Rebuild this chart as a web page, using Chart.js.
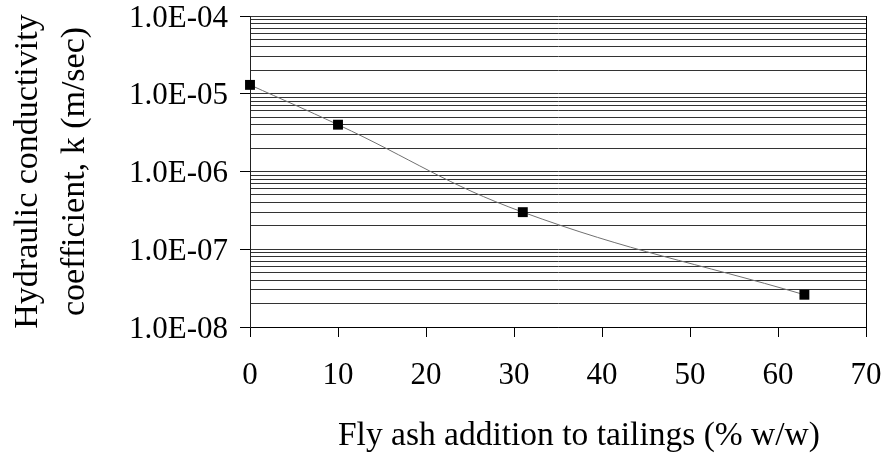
<!DOCTYPE html>
<html>
<head>
<meta charset="utf-8">
<title>Hydraulic conductivity vs fly ash addition</title>
<script src="https://cdn.jsdelivr.net/npm/chart.js@4/dist/chart.umd.min.js"></script>
<style>
  html, body { margin: 0; padding: 0; background: #fff; }
  #wrap { width: 885px; height: 456px; }
</style>
</head>
<body>
<div id="wrap"><canvas id="kChart"></canvas></div>
<script>
// fly ash content (% w/w) and measured k (m/sec)
const flyAsh = [0, 10, 31, 63];
const kValues = [1.3e-5, 4.0e-6, 3.0e-7, 2.6e-8];

// log axis: one decade per entry, labelled in Excel style
const decades = [-8, -7, -6, -5, -4];
const decadeLabels = ['1.0E-08', '1.0E-07', '1.0E-06', '1.0E-05', '1.0E-04'];
const xTicks = [0, 10, 20, 30, 40, 50, 60, 70];

const serif = '"Liberation Serif", "Times New Roman", serif';

function decadeIndex(v) {
    const e = Math.log10(v);
    const r = Math.round(e);
    if (Math.abs(e - r) > 1e-6) return -1;
    return decades.indexOf(r);
}

const ctx = document.getElementById('kChart').getContext('2d');

new Chart(ctx, {
    type: 'scatter',
    data: {
        datasets: [{
            data: flyAsh.map((x, i) => ({ x: x, y: kValues[i] })),
            showLine: true,
            tension: 0.4,
            borderColor: '#707070',
            borderWidth: 1,
            pointStyle: 'rect',
            pointRadius: 7,
            pointBackgroundColor: '#000',
            pointBorderColor: '#000',
            pointBorderWidth: 0,
            clip: false,
        }],
    },
    options: {
        responsive: true,
        maintainAspectRatio: false,
        animation: false,
        events: [],
        layout: { padding: { top: 16, right: 19, left: 0, bottom: 0 } },
        plugins: {
            legend: { display: false },
            tooltip: { enabled: false },
        },
        scales: {
            x: {
                type: 'linear',
                min: xTicks[0],
                max: xTicks[xTicks.length - 1],
                afterBuildTicks: (scale) => {
                    scale.ticks = xTicks.map(v => ({ value: v }));
                },
                afterFit: (scale) => {
                    scale.height = 129;
                    scale.paddingLeft = 0;
                    scale.paddingRight = 0;
                },
                ticks: {
                    autoSkip: false,
                    maxRotation: 0,
                    padding: 20,
                    color: '#000',
                    font: { family: serif, size: 31 },
                },
                // only the line at 70 shows inside the plot: it closes the frame on the right
                grid: {
                    drawOnChartArea: true,
                    color: (c) => (c.tick && c.tick.value === 70 ? '#000' : 'rgba(0,0,0,0)'),
                    tickColor: '#000',
                    tickLength: 10,
                    lineWidth: 1,
                },
                border: { display: true, color: '#000', width: 1 },
                title: {
                    display: true,
                    // leading spaces push the caption a little right of the plot centre
                    text: '     Fly ash addition to tailings (% w/w)',
                    color: '#000',
                    font: { family: serif, size: 33.5 },
                    padding: { top: 0, bottom: 0 },
                },
            },
            y: {
                type: 'logarithmic',
                min: Math.pow(10, decades[0]),
                max: Math.pow(10, decades[decades.length - 1]),
                afterBuildTicks: (scale) => {
                    // 1..9 in every decade, no extra 1.5 steps
                    const ticks = [];
                    decades.forEach((e, i) => {
                        const top = i === decades.length - 1 ? 1 : 9;
                        for (let m = 1; m <= top; m++) {
                            ticks.push({ value: m * Math.pow(10, e), major: m === 1 });
                        }
                    });
                    scale.ticks = ticks;
                },
                afterFit: (scale) => {
                    scale.width = 250;
                    scale.paddingTop = 0;
                    scale.paddingBottom = 0;
                },
                ticks: {
                    autoSkip: false,
                    padding: 12,
                    labelOffset: 2.5,
                    color: '#000',
                    font: { family: serif, size: 31 },
                    callback: (v) => {
                        const i = decadeIndex(v);
                        return i >= 0 ? decadeLabels[i] : '';
                    },
                },
                grid: {
                    color: '#333',
                    lineWidth: 1,
                    tickLength: 10,
                    tickColor: (c) => (c.tick && decadeIndex(c.tick.value) >= 0 ? '#000' : 'rgba(0,0,0,0)'),
                },
                border: { display: true, color: '#222', width: 1 },
                title: {
                    display: true,
                    text: ['Hydraulic conductivity', 'coefficient, k (m/sec)'],
                    color: '#000',
                    font: { family: serif, size: 34, lineHeight: '47px' },
                    padding: { top: 4.5, bottom: 0 },
                },
            },
        },
    },
});
</script>
</body>
</html>
